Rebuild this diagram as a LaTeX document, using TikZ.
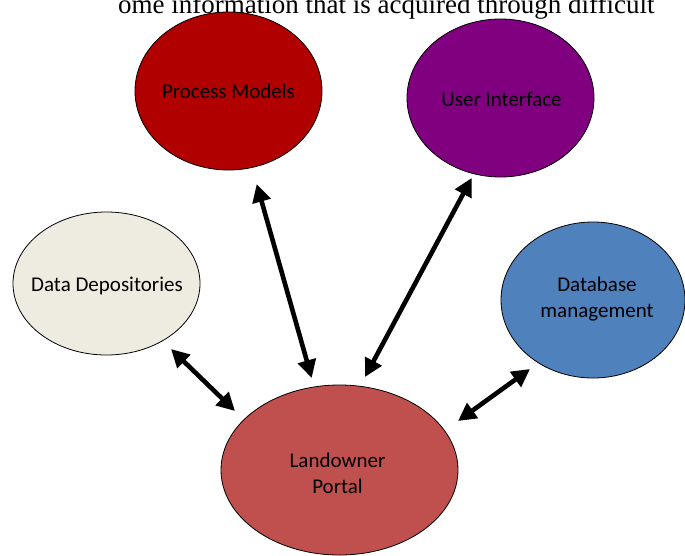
\documentclass[tikz,border=0pt]{standalone}
\usepackage{fontspec}
\setmainfont{Carlito}
\newfontfamily\serifface{Liberation Serif}
\usetikzlibrary{shapes.geometric,arrows.meta}
\definecolor{pmred}{RGB}{176,0,0}
\definecolor{uipurple}{RGB}{128,0,128}
\definecolor{ddbeige}{RGB}{238,236,225}
\definecolor{dmblue}{RGB}{79,129,189}
\definecolor{lpred}{RGB}{192,80,77}
\tikzset{
  bubble/.style={ellipse, draw=black, line width=0.8pt, inner sep=0pt},
  bubbletext/.style={inner sep=0pt, align=center, font=\fontsize{21}{26}\selectfont, text=black},
  link/.style={line width=4.6pt, {Triangle[length=18pt,width=18pt]}-{Triangle[length=18pt,width=18pt]}}
}
\begin{document}
\begin{tikzpicture}[x=1pt,y=-1pt]
\useasboundingbox (0,0) rectangle (685,555);
\clip (0,0) rectangle (685,555);
\node[anchor=base west, inner sep=0pt, font=\serifface\fontsize{27}{32}\selectfont] (top) at (118,13.5) {ome information that is acquired through difficult};
\node[bubble, fill=pmred, minimum width=187pt, minimum height=158pt] (pm) at (228.5,91) {};
\node[bubbletext] (pmt) at (228.5,91) {Process Models};
\node[bubble, fill=uipurple, minimum width=187pt, minimum height=158pt] (ui) at (500.5,98) {};
\node[bubbletext] (uit) at (501.5,99) {User Interface};
\node[bubble, fill=ddbeige, minimum width=187pt, minimum height=143pt] (dd) at (106.5,283.5) {};
\node[bubbletext] (ddt) at (107,286) {Data Depositories};
\node[bubble, fill=dmblue, minimum width=184pt, minimum height=156pt] (dm) at (593,300) {};
\node[bubbletext] (dmt) at (597,299) {Database\\management};
\node[bubble, fill=lpred, minimum width=237pt, minimum height=170pt] (lp) at (339.5,470) {};
\node[bubbletext] (lpt) at (337.5,473) {Landowner\\Portal};
\coordinate (pmA) at (256.7,184);
\coordinate (lpA) at (311.7,378);
\coordinate (uiB) at (471.7,178);
\coordinate (lpB) at (365,377);
\coordinate (ddC) at (171,349);
\coordinate (lpC) at (235,411);
\coordinate (dmD) at (530,369);
\coordinate (lpD) at (458,421);
\draw[link] (pmA) -- (lpA);
\draw[link] (uiB) -- (lpB);
\draw[link] (ddC) -- (lpC);
\draw[link] (dmD) -- (lpD);
\end{tikzpicture}
\end{document}
